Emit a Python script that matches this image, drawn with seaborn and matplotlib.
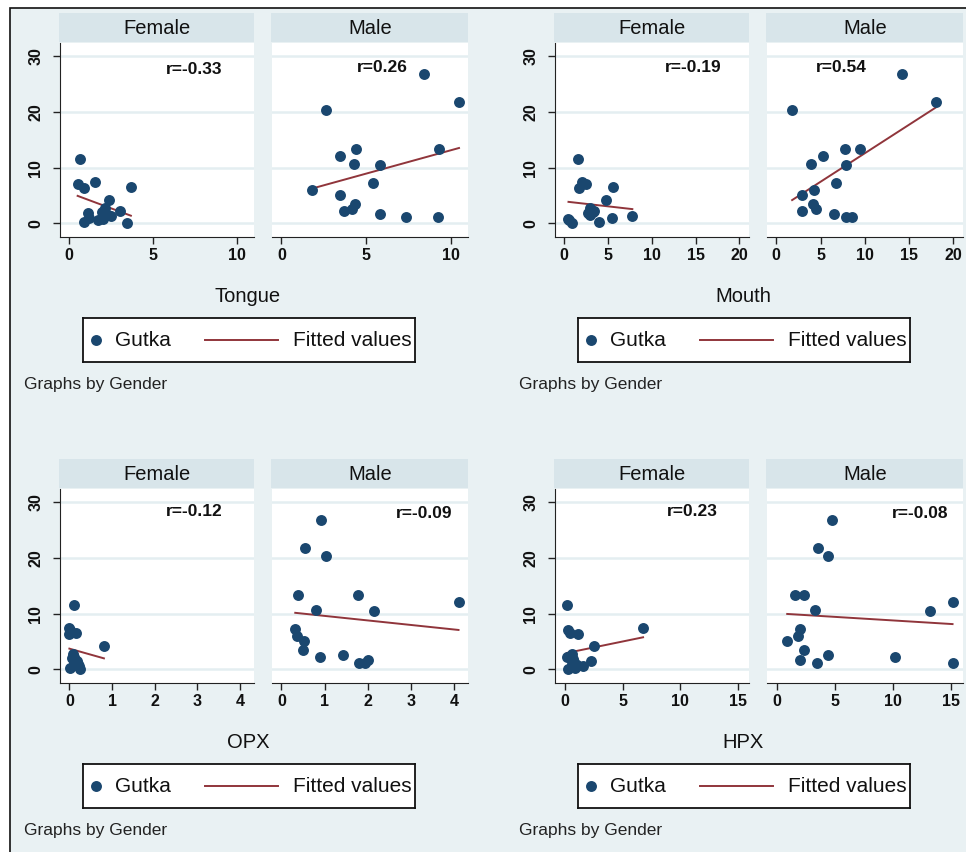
import pandas as pd
import seaborn as sns
import matplotlib.pyplot as plt
from matplotlib.patches import Rectangle

# Gutka values (shared y variable), one list per gender
gutka_female = [11.5, 7.5, 7.0, 6.6, 6.3, 4.2, 2.7, 2.3, 2.1, 1.9, 1.5, 1.3, 1.0, 0.7, 0.6, 0.3, 0.1]
gutka_male = [26.8, 21.8, 20.4, 13.4, 13.3, 12.1, 10.6, 10.5, 7.3, 6.0, 5.0, 3.4, 2.5, 2.2, 1.6, 1.2, 1.2]

# x values per site, same order as the gutka lists
tongue_female = [0.64, 1.53, 0.5, 3.67, 0.89, 2.36, 2.12, 3.0, 1.93, 1.13, 2.32, 2.5, 1.2, 2.02, 1.73, 0.89, 3.41]
tongue_male = [8.42, 10.47, 2.63, 4.41, 9.31, 3.46, 4.31, 5.83, 5.4, 1.8, 3.48, 4.35, 4.17, 3.68, 5.79, 7.37, 9.21]
mouth_female = [1.56, 2.0, 2.47, 5.54, 1.71, 4.75, 2.9, 3.45, 3.3, 2.77, 3.0, 7.78, 5.5, 0.49, 0.6, 4.0, 0.87]
mouth_male = [14.2, 18.0, 1.79, 7.73, 9.41, 5.33, 3.92, 7.92, 6.74, 4.3, 2.93, 4.11, 4.46, 2.93, 6.55, 7.92, 8.57]
opx_female = [0.12, 0.0, 0.02, 0.15, 0.0, 0.81, 0.08, 0.1, 0.05, 0.12, 0.18, 0.12, 0.2, 0.15, 0.22, 0.02, 0.25]
opx_male = [0.92, 0.55, 1.04, 0.39, 1.78, 4.11, 0.8, 2.15, 0.32, 0.36, 0.52, 0.51, 1.43, 0.9, 2.02, 1.8, 1.95]
hpx_female = [0.2, 6.79, 0.3, 0.4, 1.16, 2.52, 0.6, 0.15, 0.5, 0.7, 2.23, 0.8, 0.6, 1.0, 1.53, 0.9, 0.29]
hpx_male = [4.7, 3.52, 4.41, 1.5, 2.31, 15.1, 3.26, 13.2, 1.96, 1.82, 0.87, 2.31, 4.41, 10.15, 1.96, 3.46, 15.1]

sites = ['Tongue', 'Mouth', 'OPX', 'HPX']
genders = ['Female', 'Male']
r_female = ['r=-0.33', 'r=-0.19', 'r=-0.12', 'r=0.23']
r_male = ['r=0.26', 'r=0.54', 'r=-0.09', 'r=-0.08']
x_ticks = [[0, 5, 10], [0, 5, 10, 15, 20], [0, 1, 2, 3, 4], [0, 5, 10, 15]]
x_limits = [(-0.55, 11.0), (-1.05, 21.1), (-0.22, 4.33), (-0.87, 16.0)]

site_x = {
    ('Tongue', 'Female'): tongue_female, ('Tongue', 'Male'): tongue_male,
    ('Mouth', 'Female'): mouth_female, ('Mouth', 'Male'): mouth_male,
    ('OPX', 'Female'): opx_female, ('OPX', 'Male'): opx_male,
    ('HPX', 'Female'): hpx_female, ('HPX', 'Male'): hpx_male,
}
rows = []
for (site, g), xs in site_x.items():
    ys = gutka_female if g == 'Female' else gutka_male
    for xv, yv in zip(xs, ys):
        rows.append({'site': site, 'gender': g, 'value': xv, 'gutka': yv})
df = pd.DataFrame(rows)

plt.rcParams['font.family'] = ['Liberation Sans', 'DejaVu Sans']

BG = '#e9f1f3'
STRIP = '#d8e5ea'
GRID = '#e4eef1'
NAVY = '#1a476f'
RED = '#90353b'

W, H = 966, 852
fig = plt.figure(figsize=(W / 100, H / 100), dpi=100)
fig.patch.set_facecolor('white')


def box(x0, y0, x1, y1):
    return [x0 / W, 1 - y1 / H, (x1 - x0) / W, (y1 - y0) / H]


def pt(x, y):
    return x / W, 1 - y / H


# outer background with border (only top and left edges fall inside the image)
fig.patches.append(Rectangle((10 / W, -0.05), 1.1, 1 - 8 / H + 0.05, transform=fig.transFigure,
                             facecolor=BG, edgecolor='#111111', lw=1.2, zorder=-10))

panel_x = {'Female': (60, 254), 'Male': (272, 468)}
r_pos = {'Female': [(194, 70), (693, 68), (194, 512), (692, 512)],
         'Male': [(382, 68), (841, 68), (424, 514), (920, 514)]}

for i, site in enumerate(sites):
    col, row = i % 2, i // 2
    dx, dy = 495 * col, 446 * row
    for g in genders:
        x0, x1 = panel_x[g]
        # header strip
        fig.patches.append(Rectangle(pt(x0 + dx - 1, 42 + dy), (x1 - x0 + 1) / W, 29 / H,
                                     transform=fig.transFigure, facecolor=STRIP,
                                     edgecolor='none', zorder=-5))
        fig.text(*pt((x0 + x1) / 2 + dx, 28 + dy), g, ha='center', va='center',
                 fontsize=14.5, color='#111111')

        ax = fig.add_axes(box(x0 + dx, 43 + dy, x1 + dx, 237 + dy))
        sub = df[(df['site'] == site) & (df['gender'] == g)]
        sns.regplot(data=sub, x='value', y='gutka', ax=ax, scatter=False, ci=None,
                    truncate=True, line_kws=dict(color=RED, lw=1.4, zorder=3))
        sns.scatterplot(data=sub, x='value', y='gutka', ax=ax, color=NAVY, s=62,
                        linewidth=0, zorder=4)
        ax.set_xlim(x_limits[i])
        ax.set_ylim(-2.45, 32.35)
        ax.set_xticks(x_ticks[i])
        ax.set_yticks([0, 10, 20, 30])
        ax.set_xlabel('')
        ax.set_ylabel('')
        ax.set_facecolor('white')
        ax.grid(axis='y', color=GRID, lw=1.8)
        ax.grid(axis='x', visible=False)
        ax.set_axisbelow(True)
        for s in ['top', 'right']:
            ax.spines[s].set_visible(False)
        ax.spines['bottom'].set_color('#222222')
        ax.spines['left'].set_color('#222222')
        ax.tick_params(axis='both', length=5, width=1, color='#222222',
                       labelsize=11.5, labelcolor='#111111', pad=3)
        ax.tick_params(axis='y', pad=7)
        for lab in ax.get_xticklabels() + ax.get_yticklabels():
            lab.set_fontweight('bold')
        for lab in ax.get_yticklabels():
            lab.set_rotation(90)
            lab.set_va('center')
        if g == 'Male':
            ax.spines['left'].set_visible(False)
            ax.tick_params(axis='y', left=False, labelleft=False)

        rl = r_female[i] if g == 'Female' else r_male[i]
        rx, ry = r_pos[g][i]
        fig.text(*pt(rx, ry), rl, ha='center', va='center', fontsize=12.5,
                 fontweight='bold', color='#111111')

    # x title
    fig.text(*pt(248 + dx, 296 + dy), site, ha='center', va='center', fontsize=14.5,
             color='#111111')

    # legend box
    lax = fig.add_axes(box(83 + dx, 318 + dy, 415 + dx, 362 + dy))
    lax.set_xlim(83, 415)
    lax.set_ylim(362, 318)
    lax.set_facecolor('white')
    lax.set_xticks([])
    lax.set_yticks([])
    for s in lax.spines.values():
        s.set_color('#111111')
        s.set_linewidth(1.3)
    lax.scatter([96], [340], s=62, color=NAVY, linewidths=0)
    lax.plot([205, 278], [340, 340], color=RED, lw=1.4)
    lax.text(115, 341, 'Gutka', va='center', ha='left', fontsize=15, color='#111111')
    lax.text(293, 341, 'Fitted values', va='center', ha='left', fontsize=15,
             color='#111111')

    fig.text(*pt(24 + dx, 384 + dy), 'Graphs by Gender', ha='left', va='center',
             fontsize=12.5, color='#222222')

fig.savefig('out.png', dpi=100, facecolor=fig.get_facecolor())
